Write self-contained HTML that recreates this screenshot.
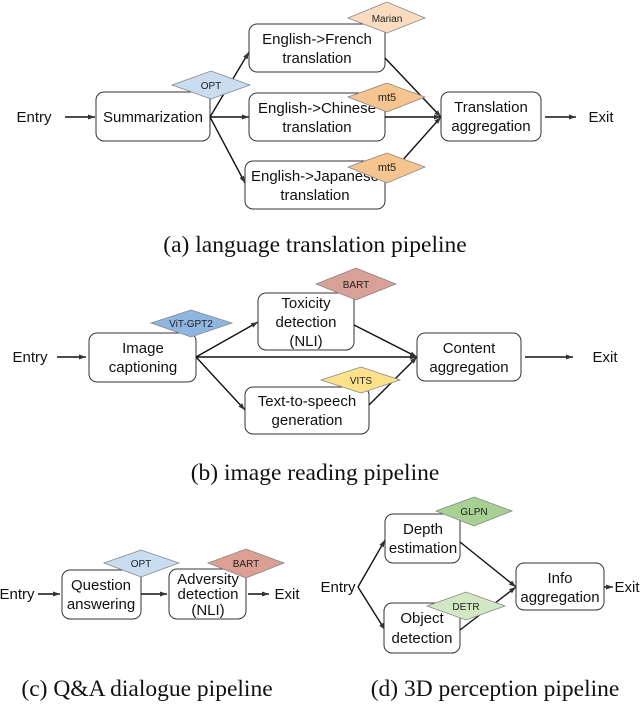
<!DOCTYPE html>
<html><head><meta charset="utf-8"><style>
html,body{margin:0;padding:0;background:#fff;width:640px;height:704px;overflow:hidden}
svg{display:block}
.t{font-family:"Liberation Sans",sans-serif;font-size:15px;fill:#111;text-anchor:middle}
.s{font-family:"Liberation Sans",sans-serif;font-size:10px;fill:#222;text-anchor:middle}
.c{font-family:"Liberation Serif",serif;font-size:23.5px;fill:#111;text-anchor:middle}
.b{fill:#fff;stroke:#333;stroke-width:1}
.l{stroke:#111;stroke-width:1.4;fill:none;marker-end:url(#a)}
.d{stroke:#888;stroke-width:0.8}
</style></head><body>
<svg width="640" height="704" viewBox="0 0 640 704">
<defs><marker id="a" markerWidth="8" markerHeight="6" refX="7" refY="3" orient="auto" markerUnits="userSpaceOnUse"><path d="M0,0.5 L7,3 L0,5.5 Z" fill="#333"/></marker></defs>

<!-- Panel a -->
<text class="t" x="34" y="122">Entry</text>
<line class="l" x1="65" y1="117" x2="95" y2="117"/>
<rect class="b" x="96" y="92" width="114" height="49" rx="8"/>
<text class="t" x="153" y="122">Summarization</text>
<line class="l" x1="210" y1="117" x2="249" y2="52"/>
<line class="l" x1="210" y1="117" x2="249" y2="117"/>
<line class="l" x1="210" y1="117" x2="245" y2="183"/>
<rect class="b" x="249" y="24" width="136" height="48" rx="8"/>
<text class="t" x="317" y="44">English-&gt;French</text><text class="t" x="317" y="63">translation</text>
<rect class="b" x="249" y="93" width="136" height="48" rx="8"/>
<text class="t" x="317" y="113">English-&gt;Chinese</text><text class="t" x="317" y="132">translation</text>
<rect class="b" x="245" y="161" width="140" height="48" rx="8"/>
<text class="t" x="315" y="181">English-&gt;Japanese</text><text class="t" x="315" y="200">translation</text>
<line class="l" x1="385" y1="58" x2="441" y2="117"/>
<line class="l" x1="385" y1="117" x2="441" y2="117"/>
<line class="l" x1="385" y1="180" x2="441" y2="117"/>
<rect class="b" x="441" y="92" width="100" height="49" rx="8"/>
<text class="t" x="491" y="112">Translation</text><text class="t" x="491" y="131">aggregation</text>
<line class="l" x1="545" y1="117" x2="576" y2="117"/>
<text class="t" x="601" y="122">Exit</text>
<polygon class="d" points="172,85 211,71 250,85 211,99" fill="#c9dcf0"/><text class="s" x="211" y="89">OPT</text>
<polygon class="d" points="348,18 387,2 425,18 387,33" fill="#fbdcc0"/><text class="s" x="387" y="22">Marian</text>
<polygon class="d" points="348,97 387,83 425,97 387,112" fill="#f6c48f"/><text class="s" x="387" y="101" style="font-size:11px">mt5</text>
<polygon class="d" points="348,167 387,153 425,167 387,183" fill="#f6c48f"/><text class="s" x="387" y="171" style="font-size:11px">mt5</text>
<text class="c" x="315" y="252">(a) language translation pipeline</text>

<!-- Panel b -->
<text class="t" x="30" y="362">Entry</text>
<line class="l" x1="57" y1="357" x2="86" y2="357"/>
<rect class="b" x="89" y="333" width="107" height="49" rx="8"/>
<text class="t" x="143" y="353">Image</text><text class="t" x="143" y="372">captioning</text>
<line class="l" x1="196" y1="357" x2="258" y2="322"/>
<line class="l" x1="196" y1="357" x2="417" y2="357"/>
<line class="l" x1="196" y1="357" x2="245" y2="410"/>
<rect class="b" x="258" y="293" width="96" height="57" rx="8"/>
<text class="t" x="306" y="308">Toxicity</text><text class="t" x="306" y="327">detection</text><text class="t" x="306" y="346">(NLI)</text>
<rect class="b" x="245" y="387" width="124" height="47" rx="8"/>
<text class="t" x="307" y="406">Text-to-speech</text><text class="t" x="307" y="425">generation</text>
<line class="l" x1="354" y1="325" x2="417" y2="357"/>
<line class="l" x1="369" y1="405" x2="417" y2="357"/>
<rect class="b" x="417" y="333" width="104" height="48" rx="8"/>
<text class="t" x="469" y="353">Content</text><text class="t" x="469" y="372">aggregation</text>
<line class="l" x1="525" y1="357" x2="573" y2="357"/>
<text class="t" x="605" y="362">Exit</text>
<polygon class="d" points="151,323 191,310 232,323 191,337" fill="#8fb6e0"/><text class="s" x="191" y="327">ViT-GPT2</text>
<polygon class="d" points="316,284 356,268 396,284 356,300" fill="#d8a096"/><text class="s" x="356" y="288">BART</text>
<polygon class="d" points="321,380 361,367 400,380 361,393" fill="#fde28a"/><text class="s" x="361" y="384">VITS</text>
<text class="c" x="315" y="480">(b) image reading pipeline</text>

<!-- Panel c -->
<text class="t" x="17" y="599">Entry</text>
<line class="l" x1="38" y1="594" x2="60" y2="594"/>
<rect class="b" x="62" y="570" width="79" height="49" rx="8"/>
<text class="t" x="101" y="590">Question</text><text class="t" x="101" y="609">answering</text>
<line class="l" x1="141" y1="594" x2="167" y2="594"/>
<rect class="b" x="169" y="569" width="77" height="50" rx="8"/>
<text class="t" x="208" y="584">Adversity</text><text class="t" x="208" y="599">detection</text><text class="t" x="208" y="615">(NLI)</text>
<line class="l" x1="248" y1="594" x2="269" y2="594"/>
<text class="t" x="287" y="599">Exit</text>
<polygon class="d" points="104,563 141,550 179,563 141,577" fill="#c9dcf0"/><text class="s" x="141" y="567">OPT</text>
<polygon class="d" points="208,563 246,549 284,563 246,578" fill="#dba093"/><text class="s" x="246" y="567">BART</text>
<text class="c" x="147" y="696">(c) Q&amp;A dialogue pipeline</text>

<!-- Panel d -->
<text class="t" x="338" y="592">Entry</text>
<line class="l" x1="358" y1="587" x2="385" y2="540"/>
<line class="l" x1="358" y1="587" x2="385" y2="630"/>
<rect class="b" x="385" y="514" width="75" height="49" rx="8"/>
<text class="t" x="423" y="534">Depth</text><text class="t" x="423" y="553">estimation</text>
<rect class="b" x="384" y="603" width="76" height="50" rx="8"/>
<text class="t" x="422" y="623">Object</text><text class="t" x="422" y="643">detection</text>
<line class="l" x1="460" y1="542" x2="516" y2="587"/>
<line class="l" x1="460" y1="630" x2="516" y2="587"/>
<rect class="b" x="516" y="563" width="88" height="47" rx="8"/>
<text class="t" x="560" y="583">Info</text><text class="t" x="560" y="602">aggregation</text>
<line class="l" x1="604" y1="587" x2="613" y2="587"/>
<text class="t" x="627" y="592">Exit</text>
<polygon class="d" points="436,511 474,497 512,511 474,526" fill="#a6d193"/><text class="s" x="474" y="515">GLPN</text>
<polygon class="d" points="427,606 466,592 505,606 466,620" fill="#d2e7c3"/><text class="s" x="466" y="610">DETR</text>
<text class="c" x="495" y="696">(d) 3D perception pipeline</text>
</svg>
</body></html>
